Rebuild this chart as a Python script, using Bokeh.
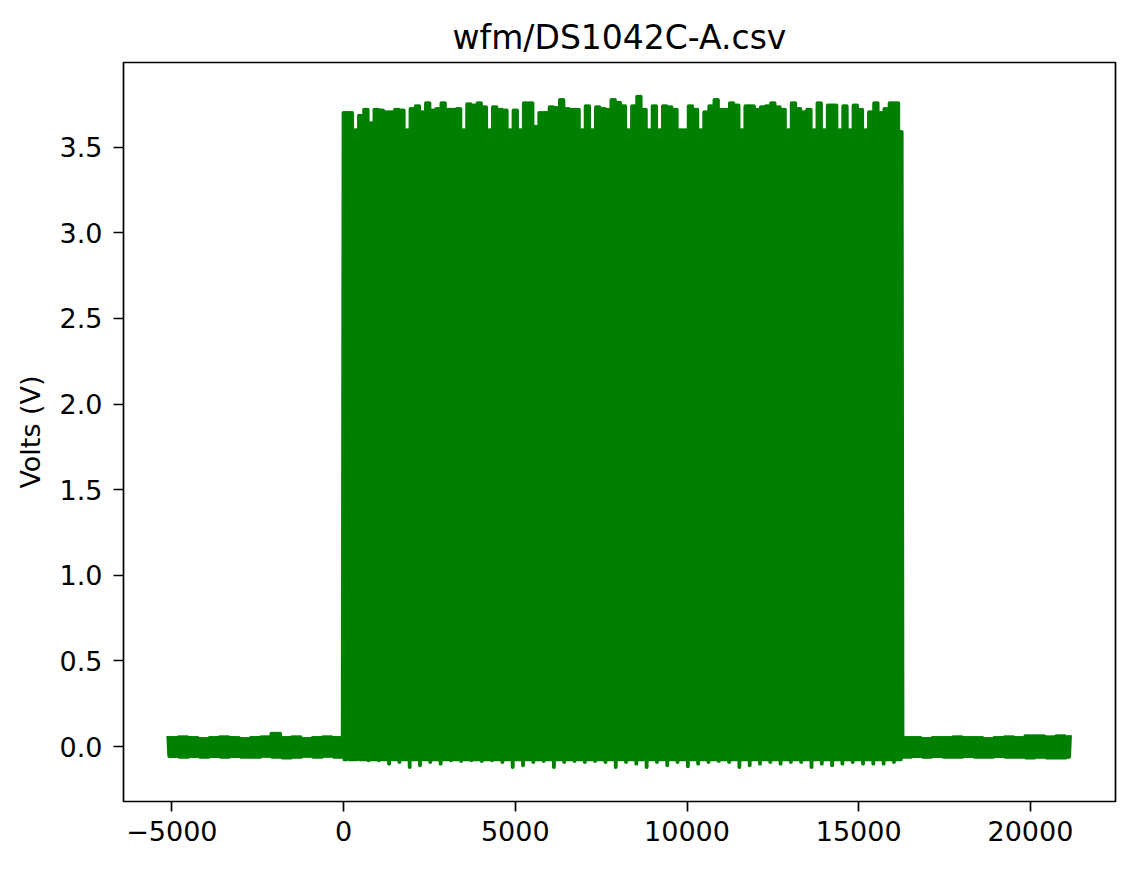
import numpy as np
from bokeh.plotting import figure
from bokeh.models import Range1d, FixedTicker, ColumnDataSource
from bokeh.embed import file_html
from bokeh.resources import INLINE

# ---------------- data ----------------
chart_title = "wfm/DS1042C-A.csv"
y_label = "Volts (V)"
x_ticks = [-5000, 0, 5000, 10000, 15000, 20000]
x_tick_labels = ["\u22125000", "0", "5000", "10000", "15000", "20000"]
y_ticks = [0.0, 0.5, 1.0, 1.5, 2.0, 2.5, 3.0, 3.5]
y_tick_labels = ["0.0", "0.5", "1.0", "1.5", "2.0", "2.5", "3.0", "3.5"]

t_start = -5100
burst_start = 0
burst_end = 16250
t_end = 21150
sample_step = 25

# idle noise before the burst (300-unit bins)
pre_top = [0.05, 0.055, 0.05, 0.045, 0.05, 0.055, 0.05, 0.045, 0.05,
           0.055, 0.075, 0.05, 0.055, 0.045, 0.05, 0.055, 0.05]
pre_bottom = [-0.055, -0.06, -0.055, -0.06, -0.055, -0.06, -0.055, -0.06, -0.06,
              -0.055, -0.06, -0.065, -0.06, -0.055, -0.06, -0.055, -0.06]

# burst: high-level peaks (150-unit bins)
burst_top = [3.70, 3.70, 3.60, 3.685, 3.72, 3.64, 3.72, 3.715, 3.705, 3.705,
             3.72, 3.715, 3.60, 3.724, 3.74, 3.705, 3.757, 3.715, 3.724, 3.757,
             3.72, 3.72, 3.724, 3.60, 3.752, 3.744, 3.757, 3.734, 3.60, 3.734,
             3.72, 3.715, 3.60, 3.715, 3.60, 3.757, 3.757, 3.62, 3.70, 3.70,
             3.734, 3.73, 3.776, 3.724, 3.72, 3.72, 3.60, 3.74, 3.60, 3.734,
             3.724, 3.72, 3.776, 3.76, 3.74, 3.60, 3.74, 3.795, 3.72, 3.60,
             3.74, 3.60, 3.74, 3.734, 3.72, 3.60, 3.60, 3.74, 3.72, 3.60,
             3.705, 3.74, 3.776, 3.72, 3.72, 3.757, 3.744, 3.60, 3.74, 3.74,
             3.72, 3.734, 3.74, 3.757, 3.734, 3.72, 3.60, 3.757, 3.724, 3.705,
             3.72, 3.60, 3.757, 3.60, 3.744, 3.744, 3.60, 3.74, 3.60, 3.744,
             3.72, 3.60, 3.705, 3.757, 3.70, 3.724, 3.757, 3.757, 3.59]
burst_low_level = -0.075
# burst: low-level undershoot dips (300-unit bins)
burst_bottom = [-0.07, -0.07, -0.08, -0.08, -0.10, -0.09, -0.12, -0.11, -0.09, -0.10,
                -0.08, -0.085, -0.08, -0.085, -0.08, -0.09, -0.12, -0.11, -0.09, -0.085,
                -0.12, -0.09, -0.085, -0.09, -0.085, -0.09, -0.12, -0.09, -0.10, -0.12,
                -0.09, -0.11, -0.09, -0.115, -0.10, -0.09, -0.085, -0.09, -0.12, -0.11,
                -0.10, -0.09, -0.10, -0.09, -0.09, -0.12, -0.10, -0.11, -0.10, -0.09,
                -0.10, -0.10, -0.10, -0.09, -0.09]

# idle noise after the burst (300-unit bins)
post_top = [0.05, 0.05, 0.045, 0.05, 0.05, 0.055, 0.05, 0.05, 0.045,
            0.05, 0.055, 0.05, 0.06, 0.06, 0.055, 0.06, 0.055]
post_bottom = [-0.06, -0.055, -0.06, -0.055, -0.06, -0.06, -0.055, -0.06, -0.06,
               -0.055, -0.06, -0.06, -0.065, -0.06, -0.065, -0.065, -0.06]

# ---------------- assemble the sampled waveform ----------------
t = np.arange(t_start, t_end + 1, sample_step)
v = []
for i, ti in enumerate(t):
    high = (i % 2 == 0)
    if ti < burst_start:
        b = min(int((ti - t_start) // 300), len(pre_top) - 1)
        v.append(pre_top[b] if high else pre_bottom[b])
    elif ti <= burst_end:
        rel = ti - burst_start
        if high:
            v.append(burst_top[min(int(rel // 150), len(burst_top) - 1)])
        else:
            b = min(int(rel // 300), len(burst_bottom) - 1)
            v.append(burst_bottom[b] if rel % 300 == 125 else burst_low_level)
    else:
        b = min(int((ti - burst_end) // 300), len(post_top) - 1)
        v.append(post_top[b] if high else post_bottom[b])

source = ColumnDataSource(data=dict(t=t, v=v))

# ---------------- figure ----------------
FONT = "DejaVu Sans"
p = figure(width=1126, height=861, output_backend="svg", toolbar_location=None,
           x_range=Range1d(-6408, 22477), y_range=Range1d(-0.321, 3.995),
           min_border_left=123, min_border_right=11, min_border_top=62,
           min_border_bottom=60, background_fill_color="white",
           border_fill_color="white")

p.line("t", "v", source=source, line_color="#008000", line_width=3.9,
       line_join="round", line_cap="square")

p.title.text = chart_title
p.title.align = "center"
p.title.text_font = FONT
p.title.text_font_size = "33px"
p.title.text_font_style = "normal"
p.title.text_color = "black"
p.title.standoff = 12

p.xgrid.visible = False
p.ygrid.visible = False
p.outline_line_color = "black"
p.outline_line_width = 1.7
p.outline_line_alpha = 1.0

p.xaxis.ticker = FixedTicker(ticks=x_ticks)
p.xaxis.major_label_overrides = {tk: lb for tk, lb in zip(x_ticks, x_tick_labels)}
p.yaxis.ticker = FixedTicker(ticks=y_ticks)
p.yaxis.major_label_overrides = {tk: lb for tk, lb in zip(y_ticks, y_tick_labels)}
p.yaxis.axis_label = y_label

for ax in (p.xaxis, p.yaxis):
    ax.axis_line_color = None
    ax.major_tick_out = 10
    ax.major_tick_in = 0
    ax.major_tick_line_width = 1.7
    ax.major_tick_line_color = "black"
    ax.minor_tick_line_color = None
    ax.major_label_text_font = FONT
    ax.major_label_text_font_size = "27px"
    ax.major_label_text_color = "black"
    ax.axis_label_text_font = FONT
    ax.axis_label_text_font_size = "27px"
    ax.axis_label_text_font_style = "normal"
    ax.axis_label_text_color = "black"

p.xaxis.major_label_standoff = 9
p.yaxis.major_label_standoff = 11
p.yaxis.axis_label_standoff = 11

open("out.html", "w").write(file_html(p, INLINE))
